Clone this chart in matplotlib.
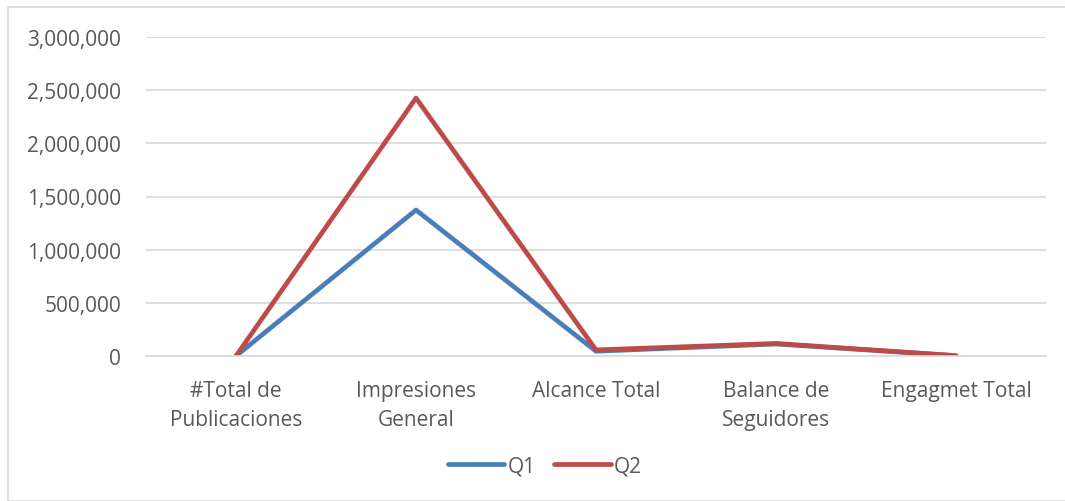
import matplotlib.pyplot as plt
from matplotlib.patches import Rectangle
from matplotlib.ticker import FuncFormatter
import numpy as np

categories = ["#Total de\nPublicaciones", "Impresiones\nGeneral", "Alcance Total",
              "Balance de\nSeguidores", "Engagmet Total"]
q1 = [300, 1373000, 45000, 113000, 2500]
q2 = [400, 2426000, 57000, 118000, 3500]
yticks = [0, 500000, 1000000, 1500000, 2000000, 2500000, 3000000]

TXT = "#595959"
GRID = "#D9D9D9"
FS = 15

plt.rcParams['font.family'] = ['Open Sans', 'DejaVu Sans']


def main():
    fig = plt.figure(figsize=(10.65, 5.02), dpi=100)
    ax = fig.add_axes([146 / 1065, 1 - 357 / 502, 900 / 1065, 319 / 502])

    x = np.arange(len(categories))
    ax.plot(x, q1, color="#4A7EBB", lw=3.4, solid_capstyle="round", solid_joinstyle="round", label="Q1")
    ax.plot(x, q2, color="#BE4B48", lw=3.4, solid_capstyle="round", solid_joinstyle="round", label="Q2")

    ax.set_xlim(-0.5, len(categories) - 0.5)
    ax.set_ylim(0, 3000000)
    ax.set_yticks(yticks)
    ax.yaxis.set_major_formatter(FuncFormatter(lambda v, p: f"{int(v):,}"))
    ax.grid(axis="y", color=GRID, lw=1.2)
    ax.set_axisbelow(True)

    ax.set_xticks(x)
    ax.set_xticklabels(categories, linespacing=1.55)
    ax.tick_params(axis="x", length=0, pad=17, labelsize=FS, labelcolor=TXT)
    ax.tick_params(axis="y", length=0, pad=18, labelsize=FS, labelcolor=TXT)

    for s in ("top", "right", "left"):
        ax.spines[s].set_visible(False)
    ax.spines["bottom"].set_color(GRID)
    ax.spines["bottom"].set_linewidth(1.2)

    leg = fig.legend(loc="center", bbox_to_anchor=(545 / 1065, 1 - 467 / 502), ncol=2, frameon=False,
                     fontsize=FS, handlelength=2.7, handletextpad=0.15, columnspacing=0.9)
    for t in leg.get_texts():
        t.set_color(TXT)

    fig.patches.append(Rectangle((8 / 1065, 0), 1.2, 1 - 8 / 502, transform=fig.transFigure,
                                 fill=False, edgecolor=GRID, lw=1.2))
    fig.savefig("out.png", dpi=100)


if __name__ == "__main__":
    main()
